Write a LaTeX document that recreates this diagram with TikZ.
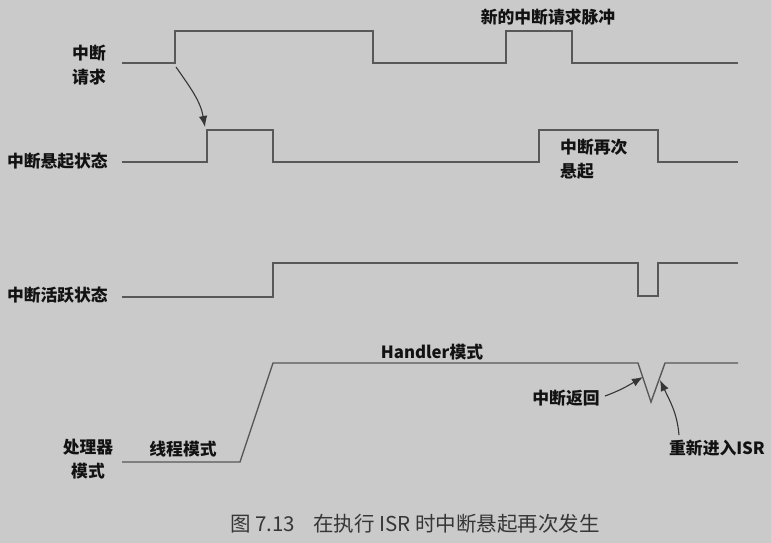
\documentclass[tikz,border=0pt]{standalone}
\usepackage{fontspec}
\setmainfont{Noto Sans CJK SC}
\usetikzlibrary{arrows.meta}
\definecolor{bg}{RGB}{202,202,202}
\definecolor{wavec}{RGB}{88,88,88}
\definecolor{ink}{RGB}{18,18,18}
\begin{document}
\begin{tikzpicture}[x=1pt,y=-1pt,
  wave/.style={draw=wavec,line width=1.4pt,line join=miter},
  lbl/.style={font=\fontsize{16.8}{24}\selectfont\bfseries,text=ink,inner sep=0pt,align=center},
  arr/.style={draw=ink!85,line width=1.1pt,-{Latex[length=11pt,width=8.5pt]}}]
\fill[bg] (0,0) rectangle (771,543);
\useasboundingbox (0,0) rectangle (771,543);
% waveforms
\draw[wave] (122,63) -- (175,63) -- (175,31) -- (373,31) -- (373,63) -- (506,63) -- (506,31) -- (572,31) -- (572,63) -- (738,63);
\draw[wave] (122,162) -- (207,162) -- (207,130) -- (273,130) -- (273,162) -- (539,162) -- (539,130) -- (658,130) -- (658,162) -- (738,162);
\draw[wave] (122,297) -- (273,297) -- (273,263) -- (638,263) -- (638,296) -- (658,296) -- (658,263) -- (738,263);
\draw[wave] (122,462) -- (240,462) -- (273,363) -- (638,363) -- (651,402) -- (665,363) -- (738,363);
% labels
\node[lbl] (req) at (89,65.5) {中断\\请求};
\node[lbl,anchor=east] (pend) at (108,161) {中断悬起状态};
\node[lbl,anchor=east] (act) at (108,295) {中断活跃状态};
\node[lbl] (cpu) at (88,459) {处理器\\模式};
\node[lbl] (thr) at (183,449) {线程模式};
\node[lbl] (hnd) at (432,352) {Handler模式};
\node[lbl] (newreq) at (548,17) {新的中断请求脉冲};
\node[lbl,align=left,anchor=west] (again) at (560,159) {中断再次\\悬起};
\node[lbl] (ret) at (566,398) {中断返回};
\node[lbl] (reisr) at (717,448) {重新进入ISR};
\node[font=\fontsize{20.5}{24}\selectfont,text=ink!85,inner sep=0pt] (cap) at (415,524) {图 7.13\hspace{0.9em}在执行 ISR 时中断悬起再次发生};
% arrow anchors
\coordinate (a1s) at (176,67);
\coordinate (a1e) at (205,127);
\coordinate (retS) at (605,396);
\coordinate (retT) at (643,377);
\coordinate (isrS) at (679,435);
\coordinate (isrT) at (660,380);
\draw[arr] (a1s) to[out=-55,in=100] (a1e);
\draw[arr] (retS) to[out=20,in=-150] (retT);
\draw[arr] (isrS) to[out=95,in=-65] (isrT);
\end{tikzpicture}
\end{document}
